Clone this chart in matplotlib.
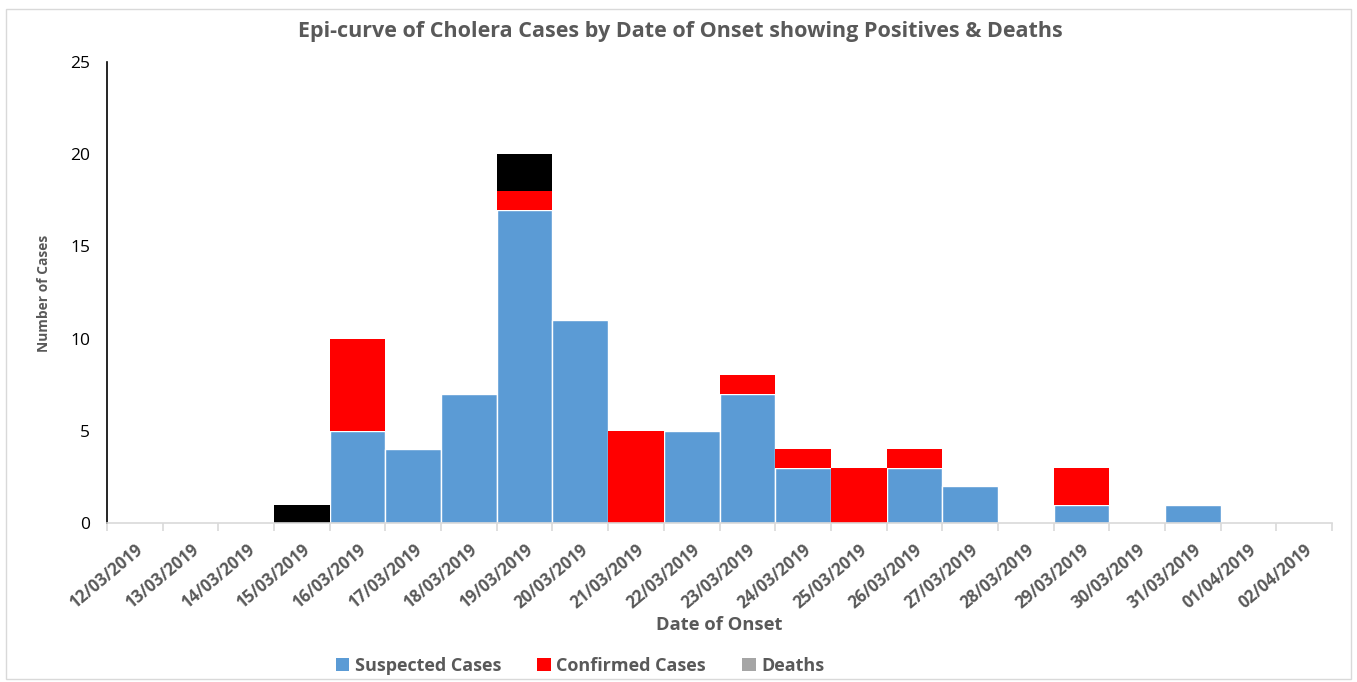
import matplotlib
matplotlib.use("Agg")
import matplotlib.pyplot as plt
from matplotlib.patches import Patch, Rectangle
import numpy as np

dates = ["12/03/2019", "13/03/2019", "14/03/2019", "15/03/2019", "16/03/2019",
         "17/03/2019", "18/03/2019", "19/03/2019", "20/03/2019", "21/03/2019",
         "22/03/2019", "23/03/2019", "24/03/2019", "25/03/2019", "26/03/2019",
         "27/03/2019", "28/03/2019", "29/03/2019", "30/03/2019", "31/03/2019",
         "01/04/2019", "02/04/2019"]
suspected = [0, 0, 0, 0, 5, 4, 7, 17, 11, 0, 5, 7, 3, 0, 3, 2, 0, 1, 0, 1, 0, 0]
confirmed = [0, 0, 0, 0, 5, 0, 0, 1, 0, 5, 0, 1, 1, 3, 1, 0, 0, 2, 0, 0, 0, 0]
deaths    = [0, 0, 0, 1, 0, 0, 0, 2, 0, 0, 0, 0, 0, 0, 0, 0, 0, 0, 0, 0, 0, 0]

plt.rcParams['font.family'] = ['Open Sans', 'DejaVu Sans']

fig = plt.figure(figsize=(13.57, 6.82), dpi=100)
ax = fig.add_axes([107/1357, 1-523/682, (1332-107)/1357, (523-62)/682])

x = np.arange(len(dates))
s = np.array(suspected); c = np.array(confirmed); d = np.array(deaths)
ax.bar(x, s, width=1, color='#5B9BD5', edgecolor='white', linewidth=1)
ax.bar(x, c, width=1, bottom=s, color='#FF0000', edgecolor='none', linewidth=0)
ax.bar(x, d, width=1, bottom=s + c, color='#000000', edgecolor='none', linewidth=0)

ax.set_xlim(-0.5, len(dates) - 0.5)
ax.set_ylim(0, 25)
ax.set_yticks([0, 5, 10, 15, 20, 25])
ax.tick_params(axis='y', length=0, labelsize=12.5, labelcolor='black', pad=12)
ax.set_xticks(x)
ax.set_xticklabels(dates, rotation=40, ha='right', rotation_mode='anchor',
                   fontsize=12, fontweight='bold', color='#595959')
ax.tick_params(axis='x', which='major', length=0, pad=11)
ax.set_xticks(np.arange(len(dates) + 1) - 0.5, minor=True)
ax.tick_params(axis='x', which='minor', length=6, color='#D9D9D9', width=1.2)

for sp in ['top', 'right']:
    ax.spines[sp].set_visible(False)
ax.spines['left'].set_color('black')
ax.spines['left'].set_linewidth(1.2)
ax.spines['bottom'].set_color('#D9D9D9')
ax.spines['bottom'].set_linewidth(1.2)

title = fig.text(680/1357, 1-31/682, "Epi-curve of Cholera Cases by Date of Onset showing Positives & Deaths",
                 ha='center', va='center', fontsize=15.5, fontweight='bold', color='#595959')
xlab = fig.text(719/1357, 1-625/682, "Date of Onset", ha='center', va='center',
                fontsize=13, fontweight='bold', color='#595959')
ylab = fig.text(44/1357, 1-293/682, "Number of Cases", ha='center', va='center', rotation=90,
                fontsize=10.5, fontweight='bold', color='#595959')

handles = [Patch(facecolor='#5B9BD5', label='Suspected Cases'),
           Patch(facecolor='#FF0000', label='Confirmed Cases'),
           Patch(facecolor='#A5A5A5', label='Deaths')]
leg = fig.legend(handles=handles, loc='center', bbox_to_anchor=(580/1357, 1-666/682), ncol=3,
                 frameon=False, fontsize=13, handlelength=0.75, handleheight=0.75,
                 handletextpad=0.3, columnspacing=2.0)
for t in leg.get_texts():
    t.set_color('#595959')
    t.set_fontweight('bold')

fig.add_artist(Rectangle((6/1357, 3/682), 1345/1357, 670/682, transform=fig.transFigure,
                         fill=False, edgecolor='#D9D9D9', linewidth=1))

def fit(artist, target, dim):
    fig.canvas.draw()
    r = fig.canvas.get_renderer()
    bb = artist.get_window_extent(r)
    cur = bb.width if dim == 'w' else bb.height
    artist.set_fontsize(artist.get_fontsize() * target / cur)

fit(title, 766, 'w')
fit(xlab, 125, 'w')
fit(ylab, 117, 'h')

fig.canvas.draw()
r = fig.canvas.get_renderer()
bb = ax.get_xticklabels()[0].get_window_extent(r)
top_px = 682 - bb.y1
ax.tick_params(axis='x', which='major', pad=11 + (541 - top_px) * 72 / 100)

fig.savefig("out.png", dpi=100)
